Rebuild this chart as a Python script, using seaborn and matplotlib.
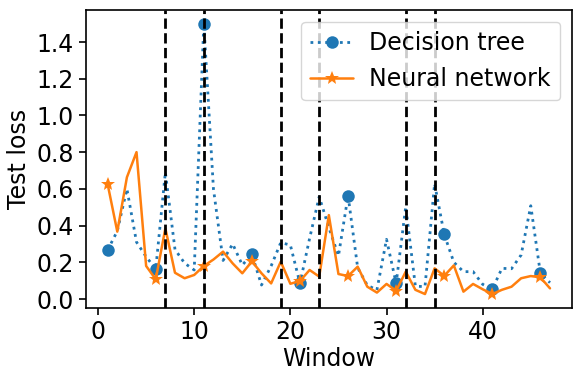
import matplotlib
matplotlib.use("Agg")
import matplotlib.pyplot as plt
import seaborn as sns
import pandas as pd

windows = list(range(1, 48))
decision_tree = [0.267, 0.37, 0.60, 0.31, 0.23, 0.163, 0.69, 0.27, 0.195, 0.158,
                 1.50, 0.60, 0.21, 0.30, 0.185, 0.243, 0.076, 0.18, 0.307, 0.294,
                 0.085, 0.33, 0.557, 0.39, 0.235, 0.563, 0.17, 0.075, 0.049, 0.325,
                 0.085, 0.503, 0.07, 0.067, 0.628, 0.352, 0.20, 0.149, 0.149, 0.08,
                 0.053, 0.167, 0.165, 0.24, 0.508, 0.14, 0.089]
neural_network = [0.625, 0.367, 0.663, 0.80, 0.18, 0.107, 0.385, 0.143, 0.113, 0.131,
                  0.18, 0.215, 0.258, 0.194, 0.14, 0.205, 0.14, 0.085, 0.203, 0.083,
                  0.098, 0.158, 0.122, 0.457, 0.136, 0.125, 0.176, 0.067, 0.035, 0.082,
                  0.045, 0.149, 0.05, 0.027, 0.167, 0.126, 0.183, 0.04, 0.082, 0.053,
                  0.027, 0.05, 0.067, 0.113, 0.125, 0.118, 0.058]
change_points = [7, 11, 19, 23, 32, 35]

sns.set_style("ticks")
plt.rcParams['font.family'] = ['DejaVu Sans']
plt.rcParams.update({"text.color": "black", "axes.labelcolor": "black",
                     "xtick.color": "black", "ytick.color": "black",
                     "axes.edgecolor": "black"})

df = pd.DataFrame({"Window": windows, "dt": decision_tree, "nn": neural_network})

fig = plt.figure(figsize=(5.82, 3.80), dpi=100)
ax = fig.add_axes([0.147, 0.189, 0.836, 0.785])

sns.lineplot(data=df, x="Window", y="dt", ax=ax, color="#1f77b4", linestyle=":",
             linewidth=2.0, marker="o", markersize=9, markevery=5,
             markeredgewidth=0, label="Decision tree")
sns.lineplot(data=df, x="Window", y="nn", ax=ax, color="#ff7f0e", linestyle="-",
             linewidth=1.8, marker="*", markersize=10, markevery=5,
             markeredgewidth=0, label="Neural network")

for cp in change_points:
    ax.axvline(cp, color="black", linestyle="--", linewidth=2.0)

ax.set_xlim(-1.3, 49.3)
ax.set_ylim(-0.05, 1.575)
ax.set_xticks([0, 10, 20, 30, 40])
ax.set_yticks([0.0, 0.2, 0.4, 0.6, 0.8, 1.0, 1.2, 1.4])
ax.set_xlabel("Window", fontsize=17, labelpad=2)
ax.set_ylabel("Test loss", fontsize=17)
ax.tick_params(labelsize=17, length=5, width=1.2, color="black", labelcolor="black")
for s in ax.spines.values():
    s.set_visible(True)
    s.set_color("black")
    s.set_linewidth(1.2)
ax.legend(loc="upper right", fontsize=17, frameon=True, framealpha=0.8,
          handlelength=1.8, handletextpad=0.7)

fig.savefig("out.png", dpi=100)
